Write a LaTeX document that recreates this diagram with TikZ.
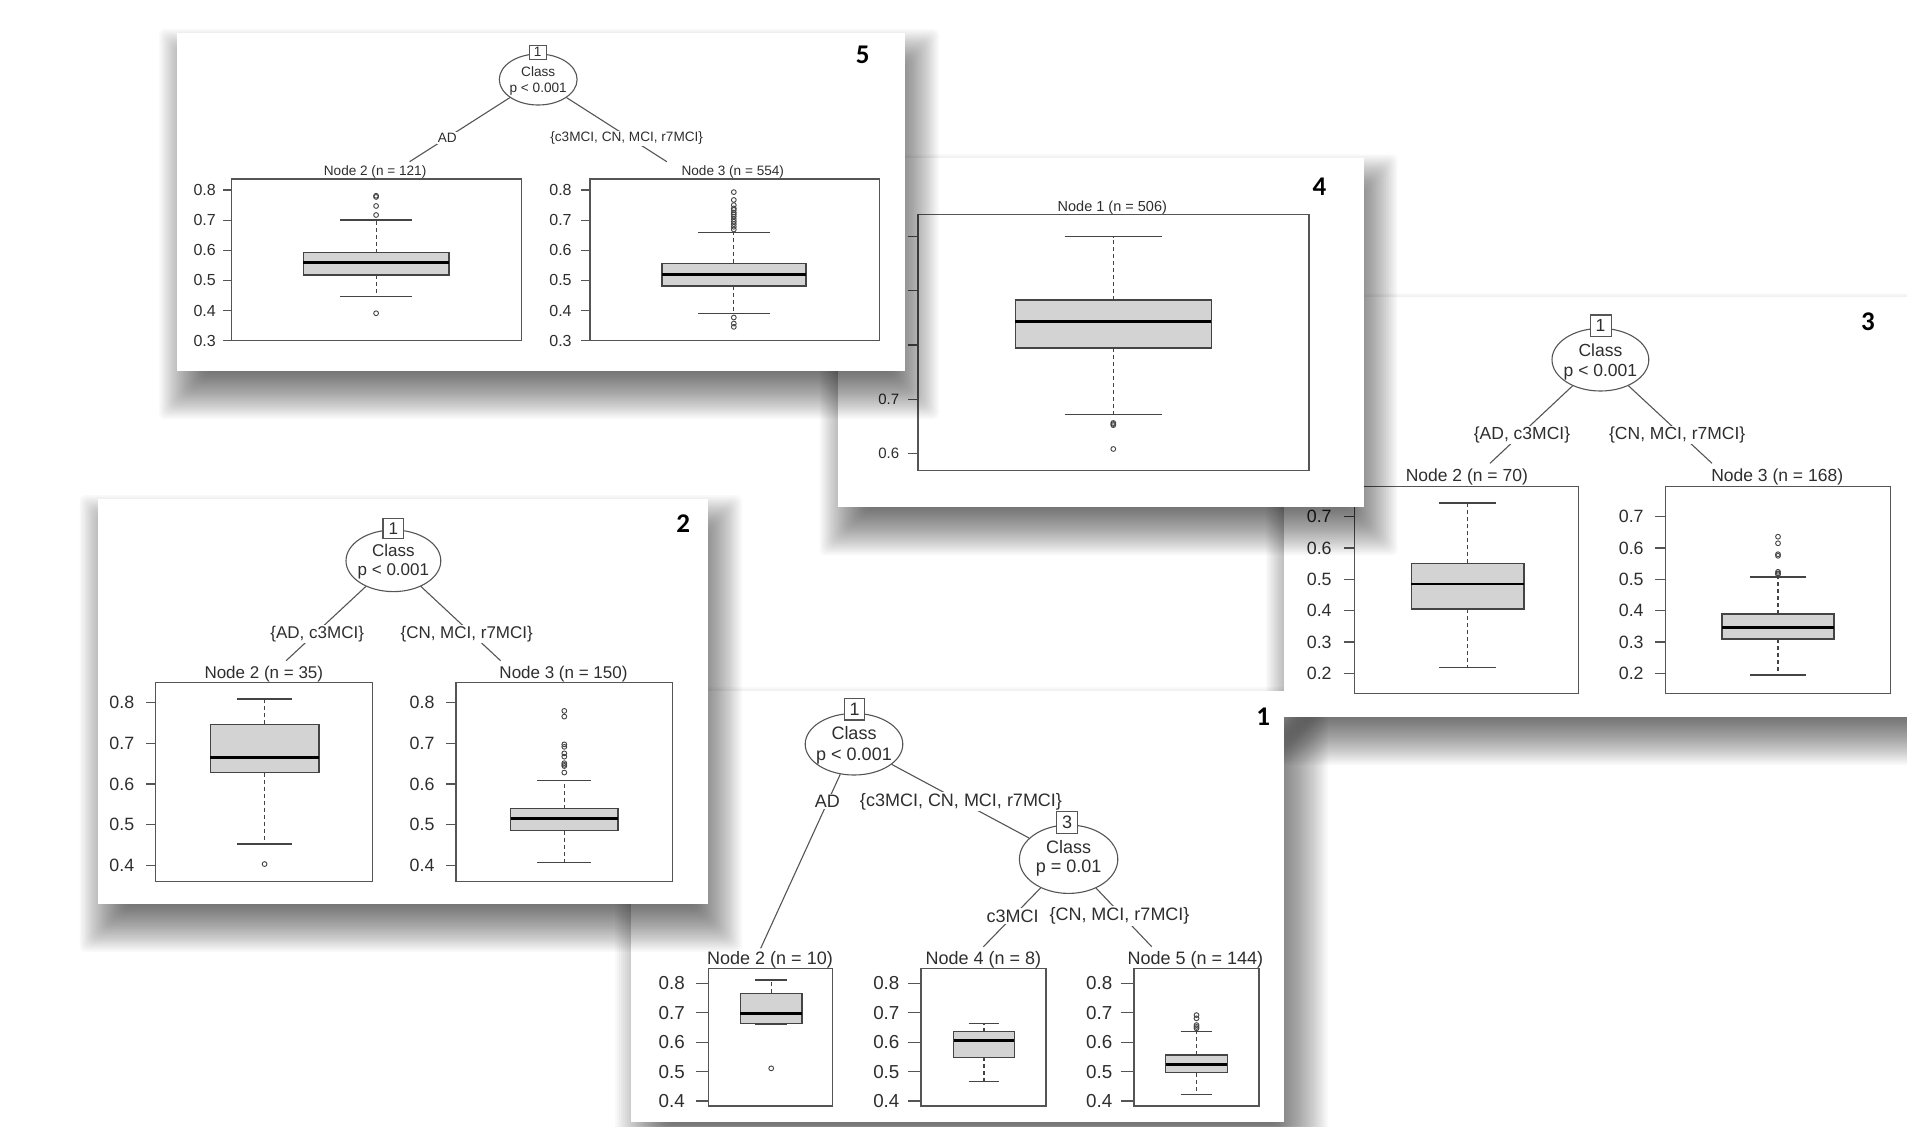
\documentclass[tikz,border=0pt]{standalone}
\usepackage{fontspec}
\setmainfont{Liberation Sans}
\newfontfamily\numfont{Carlito}
\usetikzlibrary{shapes.geometric}

\definecolor{linegray}{HTML}{555555}
\definecolor{boxline}{HTML}{444444}
\definecolor{boxgray}{HTML}{D3D3D3}
\definecolor{txtgray}{HTML}{2E2E2E}

% soft drop shadow of a panel: corners, offset, blur
\newcommand\pshadow[7]{%
  \foreach \kk in {0,...,31}{%
    \pgfmathsetmacro\ee{#7*(1-\kk/15.5)}%
    \fill[black,fill opacity=0.025,rounded corners=3pt]
      ({#1+#5-\ee},{#2+#6-\ee}) rectangle ({#3+#5+\ee},{#4+#6+\ee});
  }}
\newcommand\pwhite[4]{\fill[white] (#1,#2) rectangle (#3,#4);}
% value -> vertical position for the current axis
\newcommand\Yv[1]{\ya-(#1-\vb)*\yk}
% y axis: name prefix, frame left, tick length, label gap, ticks, labelled ticks
\newcommand\yax[6]{%
  \foreach \tv in {#5}{\draw[tick] (#2,{\Yv{\tv}}) -- ++(-#3,0);}%
  \foreach \tv [count=\ci] in {#6}{\node[axl,axfont] (#1\ci) at ({#2-#3-#4},{\Yv{\tv}}) {\tv};}}
% box plot: centre, half width, cap half width, low, q1, median, q3, high
\newcommand\bxp[8]{%
  \draw[whisk] (#1,{\Yv{#5}}) -- (#1,{\Yv{#4}});
  \draw[whisk] (#1,{\Yv{#7}}) -- (#1,{\Yv{#8}});
  \draw[capl] ({#1-#3},{\Yv{#4}}) -- ({#1+#3},{\Yv{#4}});
  \draw[capl] ({#1-#3},{\Yv{#8}}) -- ({#1+#3},{\Yv{#8}});
  \filldraw[boxs] ({#1-#2},{\Yv{#5}}) rectangle ({#1+#2},{\Yv{#7}});
  \draw[medl] ({#1-#2},{\Yv{#6}}) -- ({#1+#2},{\Yv{#6}});}
\newcommand\outs[2]{\foreach \ov in {#2}{\draw[outl] (#1,{\Yv{\ov}}) circle[radius=2.4];}}

\begin{document}
\begin{tikzpicture}[x=0.5pt,y=-0.5pt,
  frm/.style={draw=linegray,line width=0.65pt},
  tick/.style={draw=linegray,line width=0.6pt},
  edge/.style={draw=linegray,line width=0.55pt},
  whisk/.style={draw=boxline,line width=0.6pt,dash pattern=on 2pt off 1.5pt},
  capl/.style={draw=boxline,line width=0.7pt},
  boxs/.style={fill=boxgray,draw=boxline,line width=0.7pt},
  medl/.style={draw=black,line width=1.4pt},
  outl/.style={draw=boxline,line width=0.45pt},
  splitnode/.style={ellipse,draw=linegray,line width=0.55pt,inner sep=0pt},
  idbox/.style={rectangle,draw=linegray,fill=white,line width=0.55pt,inner sep=0pt,text=txtgray},
  elab/.style={fill=white,inner sep=0.6pt,text=txtgray},
  ttl/.style={text=txtgray,inner sep=0pt},
  axl/.style={anchor=east,text=txtgray,inner sep=0pt},
  pnum/.style={font=\numfont\bfseries\fontsize{13.5}{14}\selectfont,inner sep=0pt}]
\useasboundingbox (0,0) rectangle (1907,1126);
\clip (0,0) rectangle (1907,1126);
\fill[white] (0,0) rectangle (1907,1126);

% ---------- shadow of panel 1 (lies under panel 3) ----------
\pshadow{631.2}{690.8}{1284.3}{1121.5}{14}{26}{30}

% ---------- panel 3 ----------
\begin{scope}[nodefont/.style={font=\fontsize{8.75}{10}\selectfont},
              axfont/.style={font=\fontsize{8.9}{10}\selectfont}]
\pshadow{1284}{297.3}{1940}{717.3}{8}{22}{26}
\pwhite{1284}{297.3}{1940}{717.3}
\node[pnum] (p3num) at (1868,321.7) {3};
\node[splitnode,minimum width=48.4pt,minimum height=31.3pt] (p3n1) at (1600.4,359.7) {};
\node[ttl,nodefont] (p3c1) at (1600.4,350) {Class};
\node[ttl,nodefont] (p3p1) at (1600.4,371.7) {p < 0.001};
\node[idbox,nodefont,minimum width=10.5pt,minimum height=10.8pt] (p3id1) at (1600.6,325.8) {1};
\coordinate (p3e2) at (1490,463.3);
\coordinate (p3e3) at (1712,463.3);
\draw[edge] (p3n1) -- (p3e2);
\draw[edge] (p3n1) -- (p3e3);
\node[elab,nodefont] (p3l2) at (1522,435) {\{AD, c3MCI\}};
\node[elab,nodefont] (p3l3) at (1677.2,435) {\{CN, MCI, r7MCI\}};
\node[ttl,nodefont] (p3t2) at (1466.8,477.3) {Node 2 (n = 70)};
\node[ttl,nodefont] (p3t3) at (1777.2,477.3) {Node 3 (n = 168)};
\draw[frm] (1354.8,486.7) rectangle (1578.8,693.3);
\draw[frm] (1665.2,486.7) rectangle (1890.8,693.3);
\def\ya{673.3}\def\vb{0.2}\def\yk{313.3}
\yax{p3a}{1354.8}{10.8}{12}{0.2,0.3,0.4,0.5,0.6,0.7}{0.2,0.3,0.4,0.5,0.6,0.7}
\yax{p3b}{1665.2}{10.4}{10.8}{0.2,0.3,0.4,0.5,0.6,0.7}{0.2,0.3,0.4,0.5,0.6,0.7}
\bxp{1467.6}{56.4}{28.4}{0.219}{0.405}{0.485}{0.551}{0.743}
\bxp{1778}{56}{28}{0.195}{0.309}{0.347}{0.389}{0.508}
\outs{1778}{0.636,0.615,0.580,0.575,0.524,0.519,0.516}
\end{scope}

% ---------- panel 1 ----------
\begin{scope}[nodefont/.style={font=\fontsize{9}{10}\selectfont},
              axfont/.style={font=\fontsize{9.4}{10}\selectfont}]
\pwhite{631.2}{690.8}{1284.3}{1121.5}
\node[pnum] (p1num) at (1263.3,716.7) {1};
\node[splitnode,minimum width=48.8pt,minimum height=30.8pt] (p1n1) at (854,744.2) {};
\node[ttl,nodefont] (p1c1) at (854,733.3) {Class};
\node[ttl,nodefont] (p1p1) at (854,756) {p < 0.001};
\node[splitnode,minimum width=49.2pt,minimum height=34.2pt] (p1n3) at (1068.6,859.2) {};
\node[ttl,nodefont] (p1c3) at (1068.6,846.7) {Class};
\node[ttl,nodefont] (p1p3) at (1068.6,868.3) {p = 0.01};
\coordinate (p1e2) at (760.7,948.3);
\coordinate (p1e4) at (983.4,946.7);
\coordinate (p1e5) at (1151.7,946.7);
\draw[edge] (p1n1) -- (p1e2);
\draw[edge] (p1n1) -- (p1n3);
\draw[edge] (p1n3) -- (p1e4);
\draw[edge] (p1n3) -- (p1e5);
\node[idbox,nodefont,minimum width=10pt,minimum height=10.8pt] (p1id1) at (854.7,709.2) {1};
\node[idbox,nodefont,minimum width=10.8pt,minimum height=10.8pt] (p1id3) at (1067.1,822.5) {3};
\node[elab,nodefont] (p1l2) at (827.4,801.7) {AD};
\node[elab,nodefont] (p1l3) at (961,801.7) {\{c3MCI, CN, MCI, r7MCI\}};
\node[elab,nodefont] (p1l4) at (1012.6,916) {c3MCI};
\node[elab,nodefont] (p1l5) at (1119.5,916) {\{CN, MCI, r7MCI\}};
\node[ttl,nodefont] (p1t2) at (770,960) {Node 2 (n = 10)};
\node[ttl,nodefont] (p1t4) at (983.4,960) {Node 4 (n = 8)};
\node[ttl,nodefont] (p1t5) at (1195.4,960) {Node 5 (n = 144)};
\draw[frm] (708.5,968.3) rectangle (832.8,1106);
\draw[frm] (921,968.3) rectangle (1046.1,1106);
\draw[frm] (1133.9,968.3) rectangle (1259,1106);
\def\ya{1101}\def\vb{0.4}\def\yk{294.2}
\yax{p1a}{708.5}{12.2}{11.1}{0.4,0.5,0.6,0.7,0.8}{0.4,0.5,0.6,0.7,0.8}
\yax{p1b}{921}{12.7}{8.5}{0.4,0.5,0.6,0.7,0.8}{0.4,0.5,0.6,0.7,0.8}
\yax{p1c}{1133.9}{12.7}{8.5}{0.4,0.5,0.6,0.7,0.8}{0.4,0.5,0.6,0.7,0.8}
\bxp{771.2}{30.8}{15.9}{0.661}{0.664}{0.698}{0.766}{0.811}
\outs{771.2}{0.511}
\bxp{984}{30.3}{15.3}{0.466}{0.548}{0.607}{0.636}{0.664}
\bxp{1196.5}{30.8}{15.9}{0.423}{0.496}{0.525}{0.556}{0.636}
\outs{1196.5}{0.692,0.681,0.658,0.652,0.647}
\end{scope}

% ---------- panel 2 ----------
\begin{scope}[nodefont/.style={font=\fontsize{8.5}{10}\selectfont},
              axfont/.style={font=\fontsize{8.9}{10}\selectfont}]
\pshadow{97.5}{499}{708}{904}{8}{22}{26}
\pwhite{97.5}{499}{708}{904}
\node[pnum] (p2num) at (683.1,523.3) {2};
\node[splitnode,minimum width=47.4pt,minimum height=30.8pt] (p2n1) at (393.4,560.8) {};
\node[ttl,nodefont] (p2c1) at (393.4,550.7) {Class};
\node[ttl,nodefont] (p2p1) at (393.4,571) {p < 0.001};
\node[idbox,nodefont,minimum width=10.35pt,minimum height=10pt] (p2id1) at (393.3,528.3) {1};
\coordinate (p2e2) at (286.1,660.7);
\coordinate (p2e3) at (500.6,660.7);
\draw[edge] (p2n1) -- (p2e2);
\draw[edge] (p2n1) -- (p2e3);
\node[elab,nodefont] (p2l2) at (317.2,634) {\{AD, c3MCI\}};
\node[elab,nodefont] (p2l3) at (466.7,634) {\{CN, MCI, r7MCI\}};
\node[ttl,nodefont] (p2t2) at (263.8,674) {Node 2 (n = 35)};
\node[ttl,nodefont] (p2t3) at (563.5,674) {Node 3 (n = 150)};
\draw[frm] (155.8,682.7) rectangle (372.2,881.7);
\draw[frm] (455.9,682.7) rectangle (672.8,881.7);
\def\ya{865.7}\def\vb{0.4}\def\yk{408.5}
\yax{p2a}{155.8}{10}{11.2}{0.4,0.5,0.6,0.7,0.8}{0.4,0.5,0.6,0.7,0.8}
\yax{p2b}{455.9}{10}{11.1}{0.4,0.5,0.6,0.7,0.8}{0.4,0.5,0.6,0.7,0.8}
\bxp{264.6}{54.2}{27.5}{0.453}{0.628}{0.665}{0.746}{0.808}
\outs{264.6}{0.404}
\bxp{564.3}{53.8}{27}{0.408}{0.486}{0.516}{0.540}{0.608}
\outs{564.3}{0.779,0.765,0.697,0.691,0.675,0.667,0.651,0.647,0.644,0.628}
\end{scope}

% ---------- panel 4 ----------
\begin{scope}[nodefont/.style={font=\fontsize{7.25}{8.5}\selectfont},
              axfont/.style={font=\fontsize{7.5}{8.5}\selectfont}]
\pshadow{837.6}{158.3}{1363.6}{507.3}{8}{22}{26}
\pwhite{837.6}{158.3}{1363.6}{507.3}
\node[pnum] (p4num) at (1319.4,186.7) {4};
\node[ttl,nodefont] (p4t1) at (1112.3,207.3) {Node 1 (n = 506)};
\draw[frm] (918,214.3) rectangle (1309,470.7);
\def\ya{453.3}\def\vb{0.6}\def\yk{542}
\yax{p4a}{918}{10}{8.5}{0.6,0.7,0.8,0.9,1.0}{0.6,0.7}
\bxp{1113.3}{98}{48.6}{0.672}{0.794}{0.843}{0.883}{1.0}
\outs{1113.3}{0.656,0.654,0.652,0.608}
\end{scope}

% ---------- panel 5 ----------
\begin{scope}[nodefont/.style={font=\fontsize{6.8}{8}\selectfont},
              axfont/.style={font=\fontsize{8}{9}\selectfont}]
\pshadow{177}{33}{905}{371}{8}{22}{26}
\pwhite{177}{33}{905}{371}
\node[pnum] (p5num) at (862.6,55) {5};
\node[splitnode,minimum width=38.9pt,minimum height=25.5pt] (p5n1) at (538.2,79.5) {};
\node[ttl,nodefont] (p5c1) at (538.2,71.7) {Class};
\node[ttl,nodefont] (p5p1) at (538.2,89.3) {p < 0.001};
\node[idbox,nodefont,minimum width=8.5pt,minimum height=7pt] (p5id1) at (537.7,52.2) {1};
\coordinate (p5e2) at (409.6,161.7);
\coordinate (p5e3) at (666.8,161.7);
\draw[edge] (p5n1) -- (p5e2);
\draw[edge] (p5n1) -- (p5e3);
\node[elab,nodefont] (p5l2) at (447.3,138.3) {AD};
\node[elab,nodefont] (p5l3) at (626.7,138.3) {\{c3MCI, CN, MCI, r7MCI\}};
\node[ttl,nodefont] (p5t2) at (375.1,172.3) {Node 2 (n = 121)};
\node[ttl,nodefont] (p5t3) at (732.8,172.3) {Node 3 (n = 554)};
\draw[frm] (231.7,179) rectangle (521.4,340.7);
\draw[frm] (589.9,179) rectangle (879.2,340.7);
\def\ya{190}\def\vb{0.8}\def\yk{301.4}
\yax{p5a}{231.7}{8.5}{7}{0.3,0.4,0.5,0.6,0.7,0.8}{0.3,0.4,0.5,0.6,0.7,0.8}
\yax{p5b}{589.9}{9.4}{8.5}{0.3,0.4,0.5,0.6,0.7,0.8}{0.3,0.4,0.5,0.6,0.7,0.8}
\bxp{376.1}{72.7}{36}{0.446}{0.518}{0.559}{0.592}{0.700}
\outs{376.1}{0.781,0.777,0.747,0.717,0.391}
\bxp{733.8}{72}{36}{0.391}{0.482}{0.520}{0.557}{0.660}
\outs{733.8}{0.793,0.767,0.750,0.739,0.734,0.725,0.719,0.712,0.703,0.695,0.687,0.678,0.669,0.377,0.357,0.346}
\end{scope}
\end{tikzpicture}
\end{document}
